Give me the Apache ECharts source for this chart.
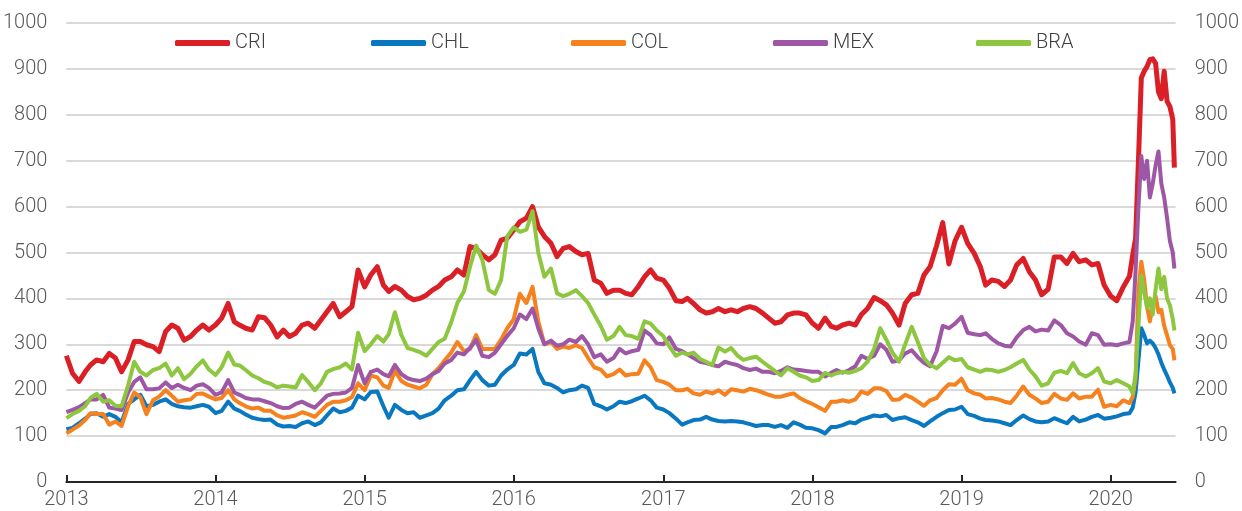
<!DOCTYPE html>
<html>
<head>
<meta charset="utf-8">
<script src="https://cdn.jsdelivr.net/npm/echarts@6/dist/echarts.min.js"></script>
<style>
  html, body { margin: 0; padding: 0; background: #fff; }
  #chart { width: 1242px; height: 511px; }
</style>
</head>
<body>
<div id="chart"></div>
<script>
  // semi-monthly points 2013-01 .. 2019-12, then roughly weekly in 2020
  const dates2020 = ['2020-01-01', '2020-01-16', '2020-02-01', '2020-02-16', '2020-02-24', '2020-03-02',
    '2020-03-09', '2020-03-16', '2020-03-23', '2020-03-30', '2020-04-06', '2020-04-13', '2020-04-20',
    '2020-04-27', '2020-05-04', '2020-05-11', '2020-05-18', '2020-05-25', '2020-06-01', '2020-06-05']
  const dates = []
  for (let y = 2013; y <= 2019; y++) {
    for (let m = 1; m <= 12; m++) {
      const mm = (m < 10 ? '0' : '') + m
      dates.push(y + '-' + mm + '-01', y + '-' + mm + '-16')
    }
  }
  dates.push(...dates2020)

  const names = ['CRI', 'CHL', 'COL', 'MEX', 'BRA']
  const colors = ['#da1f26', '#0a78c0', '#f5821f', '#9e57a5', '#8dc63f']

  const cri = [275, 237, 219, 240, 255, 266, 262, 280, 270, 240, 266, 306, 306, 299, 295, 284, 328, 342, 335, 309, 317, 331, 342, 331, 342, 357, 389, 349, 342, 335, 331, 360, 358, 342, 316,
    331, 317, 324, 342, 346, 335, 353, 371, 389, 360, 371, 382, 462, 425, 451, 469, 429, 415, 426, 418, 404, 397, 400, 407, 418, 426, 440, 447, 462, 451, 513, 509,
    495, 484, 495, 527, 531, 549, 567, 575, 600, 556, 535, 520, 491, 509, 513, 502, 495, 498, 440, 433, 411, 418, 418, 411, 408, 426, 447, 462, 444, 440, 422, 395,
    393, 400, 389, 375, 368, 371, 378, 371, 375, 371, 378, 382, 378, 368, 357, 346, 349, 364, 368, 368, 364, 346, 335, 357, 339, 335, 342, 346, 342, 365, 378, 402, 395,
    386, 368, 342, 389, 408, 411, 451, 469, 515, 565, 475, 525, 555, 520, 498, 469, 429, 440, 437, 426, 440, 473, 487, 458, 440, 408, 420, 490, 490, 476, 498, 480, 484, 473, 476, 429,
    405, 395, 425, 448, 495, 530, 700, 880, 895, 905, 920, 922, 912, 850, 835, 895, 830, 818, 790, 685]
  const chl = [115, 118, 128, 138, 148, 150, 142, 148, 142, 130, 170, 180, 190, 165, 168, 175, 180, 170, 165, 163, 162, 165, 168, 164, 150, 155, 175, 160, 155, 147, 140, 137, 135, 136, 125,
    121, 122, 120, 128, 132, 124, 130, 145, 160, 152, 155, 162, 188, 180, 196, 197, 165, 140, 168, 157, 150, 152, 140, 145, 150, 160, 178, 188, 200, 202, 222, 240,
    222, 210, 212, 232, 245, 255, 280, 278, 290, 240, 215, 212, 205, 195, 200, 202, 210, 205, 170, 165, 158, 165, 175, 172, 176, 182, 188, 178, 162, 158, 150, 138,
    125, 130, 135, 136, 142, 136, 133, 132, 133, 132, 130, 126, 122, 124, 124, 120, 124, 118, 130, 125, 118, 117, 113, 106, 120, 120, 124, 130, 128, 136, 140, 145, 143,
    146, 135, 139, 141, 135, 130, 122, 132, 142, 150, 157, 158, 164, 148, 144, 138, 135, 134, 132, 128, 124, 135, 145, 137, 132, 130, 132, 139, 133, 128, 142, 132, 136, 142, 146, 138,
    140, 143, 148, 150, 162, 195, 265, 335, 320, 302, 308, 302, 292, 278, 260, 245, 232, 217, 205, 193]
  const col = [106, 114, 123, 135, 150, 148, 148, 125, 132, 122, 165, 195, 185, 148, 178, 186, 200, 188, 175, 178, 180, 192, 193, 186, 180, 183, 200, 180, 172, 165, 160, 162, 155, 155, 145,
    140, 142, 145, 152, 148, 142, 155, 168, 175, 175, 178, 185, 215, 200, 232, 228, 210, 205, 242, 220, 212, 208, 204, 212, 235, 248, 265, 282, 305, 285, 290, 320,
    290, 290, 290, 310, 335, 355, 410, 390, 425, 350, 300, 305, 290, 295, 292, 298, 292, 270, 250, 245, 230, 235, 245, 232, 235, 236, 265, 250, 222, 218, 212, 200,
    200, 203, 193, 190, 197, 193, 200, 190, 202, 200, 197, 203, 200, 195, 190, 186, 186, 190, 193, 183, 176, 170, 163, 155, 175, 175, 178, 175, 180, 197, 192, 204, 204,
    198, 179, 180, 190, 184, 175, 166, 178, 183, 200, 213, 212, 225, 200, 193, 190, 182, 183, 180, 175, 172, 188, 208, 190, 182, 172, 175, 192, 182, 179, 193, 182, 186, 186, 201, 164,
    168, 165, 178, 172, 185, 225, 418, 480, 440, 382, 350, 385, 405, 370, 375, 340, 320, 298, 290, 265]
  const mex = [152, 157, 163, 172, 180, 180, 190, 162, 160, 157, 195, 218, 228, 202, 202, 204, 217, 205, 212, 205, 200, 210, 213, 205, 190, 195, 222, 195, 190, 183, 180, 180, 176, 172, 165,
    161, 162, 170, 175, 168, 162, 175, 188, 192, 193, 195, 205, 255, 215, 240, 245, 235, 230, 255, 235, 226, 222, 220, 225, 235, 242, 258, 266, 282, 278, 292, 310,
    275, 272, 282, 300, 318, 335, 365, 355, 378, 335, 300, 308, 297, 300, 310, 305, 318, 300, 272, 278, 262, 270, 290, 280, 285, 288, 330, 320, 302, 300, 315, 290,
    285, 278, 270, 262, 259, 255, 252, 262, 258, 255, 248, 244, 247, 240, 240, 237, 242, 250, 245, 244, 242, 240, 240, 230, 238, 244, 238, 244, 252, 275, 268, 275, 300,
    288, 262, 265, 280, 287, 272, 260, 252, 285, 340, 335, 345, 360, 325, 322, 320, 324, 312, 302, 297, 295, 315, 331, 338, 328, 332, 330, 352, 342, 324, 317, 306, 299, 324, 320, 299,
    300, 298, 302, 305, 350, 460, 600, 710, 660, 700, 620, 650, 690, 720, 650, 620, 575, 525, 500, 465]
  const bra = [139, 148, 155, 165, 183, 192, 175, 178, 166, 165, 210, 262, 240, 232, 244, 248, 258, 232, 248, 224, 236, 252, 265, 245, 233, 250, 282, 256, 254, 244, 232, 226, 218, 214, 206,
    210, 208, 206, 233, 218, 200, 215, 240, 246, 250, 258, 245, 325, 285, 300, 318, 306, 322, 370, 320, 292, 288, 283, 275, 290, 305, 312, 348, 390, 415, 469, 515,
    484, 418, 410, 440, 535, 555, 545, 550, 590, 500, 447, 465, 411, 405, 410, 418, 405, 390, 365, 340, 310, 318, 338, 320, 318, 312, 350, 345, 330, 318, 295, 275,
    282, 278, 282, 268, 262, 255, 293, 284, 292, 276, 266, 270, 273, 262, 252, 242, 232, 248, 240, 232, 228, 220, 222, 238, 232, 237, 240, 238, 242, 248, 262, 290, 335,
    310, 282, 262, 300, 338, 305, 270, 255, 248, 260, 272, 265, 268, 250, 245, 240, 245, 244, 240, 244, 250, 258, 266, 245, 230, 210, 215, 238, 242, 237, 259, 237, 230, 237, 248, 219,
    215, 222, 215, 208, 193, 235, 340, 450, 415, 380, 400, 365, 420, 465, 420, 447, 400, 385, 355, 330]

  const values = [cri, chl, col, mex, bra]
  const legendLeft = [170, 366, 566, 768, 971]

  const font = "'Roboto', sans-serif"
  const labelColor = '#595959'

  const yLabel = { margin: 19, fontFamily: font, fontSize: 20, fontWeight: 300, color: labelColor, formatter: v => String(v) }

  const chart = echarts.init(document.getElementById('chart'), null, { renderer: 'canvas' })
  chart.setOption({
    animation: false,
    backgroundColor: '#fff',
    color: colors,
    grid: { left: 66, right: 66, top: 23, bottom: 29, containLabel: false },
    legend: names.map((n, i) => ({
      data: [n],
      left: legendLeft[i],
      top: 28,
      icon: 'roundRect',
      itemWidth: 55,
      itemHeight: 6,
      itemGap: 0,
      itemTextGap: 4,
      textStyle: { fontFamily: font, fontSize: 20, fontWeight: 300, color: '#404040' }
    })),
    xAxis: {
      type: 'time',
      min: '2013-01-01',
      max: '2020-06-08',
      minInterval: 365 * 24 * 3600 * 1000,
      splitNumber: 8,
      axisLine: { lineStyle: { color: '#262626', width: 2 } },
      axisTick: { inside: true, length: 7, lineStyle: { color: '#262626', width: 2 } },
      splitLine: { show: false },
      axisLabel: {
        margin: 8,
        fontFamily: font,
        fontSize: 20,
        fontWeight: 300,
        color: labelColor,
        formatter: v => String(new Date(v).getFullYear())
      }
    },
    yAxis: [{
      type: 'value',
      min: 0,
      max: 1000,
      interval: 100,
      axisLine: { show: false },
      axisTick: { show: false },
      splitLine: { lineStyle: { color: '#d9d9d9', width: 2 } },
      axisLabel: yLabel
    }, {
      type: 'value',
      position: 'right',
      min: 0,
      max: 1000,
      interval: 100,
      axisLine: { show: false },
      axisTick: { show: false },
      splitLine: { show: false },
      axisLabel: yLabel
    }],
    series: names.map((n, i) => ({
      name: n,
      type: 'line',
      symbol: 'none',
      yAxisIndex: 0,
      lineStyle: { width: i === 0 ? 5 : 4, color: colors[i], join: 'round' },
      data: dates.map((d, k) => [d, values[i][k]])
    }))
  })
</script>
</body>
</html>
